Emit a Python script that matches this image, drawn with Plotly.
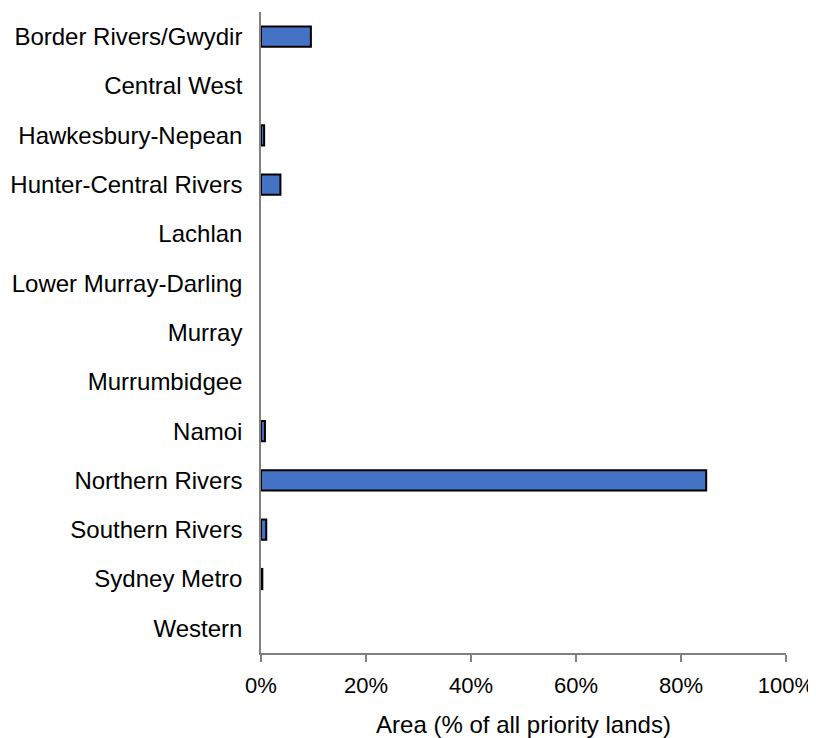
import plotly.graph_objects as go

regions = ["Border Rivers/Gwydir", "Central West", "Hawkesbury-Nepean",
           "Hunter-Central Rivers", "Lachlan", "Lower Murray-Darling", "Murray",
           "Murrumbidgee", "Namoi", "Northern Rivers", "Southern Rivers",
           "Sydney Metro", "Western"]
area_pct = [9.5, 0.0, 0.6, 3.7, 0.0, 0.0, 0.0, 0.0, 0.75, 84.8, 1.0, 0.25, 0.0]
x_ticks = [0, 20, 40, 60, 80, 100]
x_tick_labels = ["0%", "20%", "40%", "60%", "80%", "100%"]

# no outline on empty bars
outline_widths = [2 if v > 0 else 0 for v in area_pct]

fig = go.Figure(go.Bar(
    x=area_pct, y=regions, orientation="h",
    marker=dict(color="#4472C4", line=dict(color="black", width=outline_widths)),
))

font = dict(family="Liberation Sans, Arial, sans-serif", size=24, color="black")
xtick_font = dict(family="Liberation Sans, Arial, sans-serif", size=22, color="black")
title_font = dict(family="Liberation Sans, Arial, sans-serif", size=24, color="black")

# page body has an 8px margin, so the figure is 808x730 and offset by 8px
fig.update_layout(
    width=808, height=730,
    margin=dict(l=253, r=30, t=4, b=85, autoexpand=False),
    plot_bgcolor="white", paper_bgcolor="white",
    bargap=0.59,
    showlegend=False,
    font=font,
    xaxis=dict(
        range=[0, 100], tickvals=x_ticks, ticktext=x_tick_labels,
        showgrid=False, zeroline=False, automargin=False,
        showline=True, linecolor="#808080", linewidth=1.5,
        ticks="outside", ticklen=7, tickcolor="#808080", tickwidth=1.5,
        ticklabeloverflow="allow", ticklabelstandoff=5,
        title=dict(text="Area (% of all priority lands)", standoff=19, font=title_font),
        tickfont=xtick_font,
    ),
    yaxis=dict(
        autorange="reversed",
        showgrid=False, zeroline=False, automargin=False,
        showline=True, linecolor="#808080", linewidth=1.5,
        ticks="", ticklabelstandoff=12,
        tickfont=font,
    ),
)

fig.write_html("out.html")
